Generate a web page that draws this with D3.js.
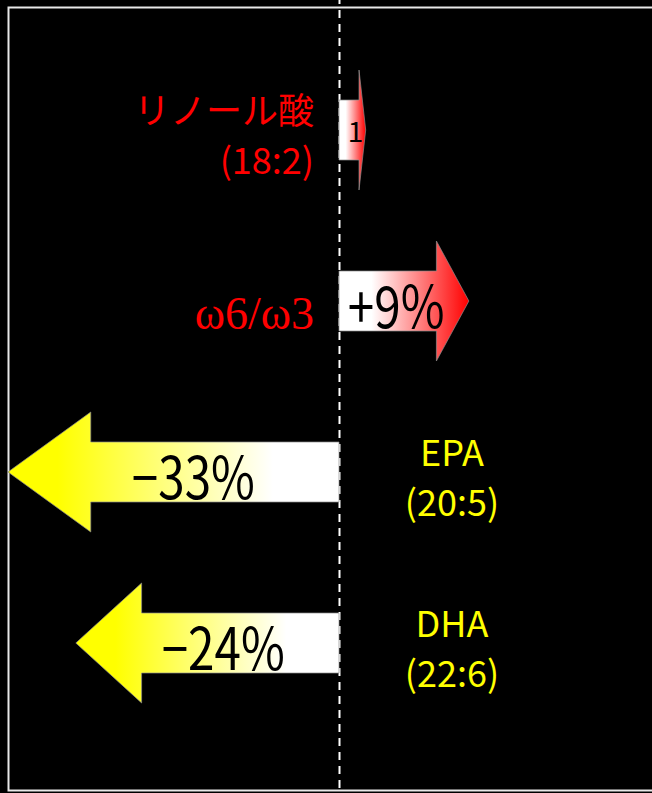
<!DOCTYPE html>
<html>
<head>
<meta charset="utf-8">
<script src="https://cdn.jsdelivr.net/npm/d3@7"></script>
<style>
  html, body { margin: 0; padding: 0; background: #000; }
  svg { display: block; }
</style>
</head>
<body>
<div id="chart"></div>
<script>
// ---- data ----
const categories = ["リノール酸", "ω6/ω3", "EPA", "DHA"];
const subLabels = ["(18:2)", "", "(20:5)", "(22:6)"];
const values = [1, 9, -33, -24];          // % change
const valueLabels = ["1", "+9%", "−33%", "−24%"];

// ---- layout ----
const W = 652, H = 793;
const svg = d3.select("#chart").append("svg")
  .attr("width", W).attr("height", H)
  .style("background", "#000");

const x = d3.scalePow().exponent(0.72)
  .domain([-33, 33]).range([8, 670]);
const y = d3.scalePoint().domain(categories).range([130, 643]);

const x0 = x(0);
const shaftHalf = 30, headHalf = 60;

// gradients
const defs = svg.append("defs");
const gPos = defs.append("linearGradient").attr("id", "gradPos")
  .attr("x1", 0).attr("x2", 1).attr("y1", 0).attr("y2", 0);
gPos.append("stop").attr("offset", 0).attr("stop-color", "#ffffff");
gPos.append("stop").attr("offset", 0.25).attr("stop-color", "#ffffff");
gPos.append("stop").attr("offset", 1).attr("stop-color", "#ff0000");
const gNeg = defs.append("linearGradient").attr("id", "gradNeg")
  .attr("x1", 1).attr("x2", 0).attr("y1", 0).attr("y2", 0);
gNeg.append("stop").attr("offset", 0).attr("stop-color", "#ffffff");
gNeg.append("stop").attr("offset", 0.2).attr("stop-color", "#ffffff");
gNeg.append("stop").attr("offset", 0.85).attr("stop-color", "#ffff00");
gNeg.append("stop").attr("offset", 1).attr("stop-color", "#ffff00");

// frame
svg.append("rect")
  .attr("x", 8.5).attr("y", 7.5).attr("width", 720).attr("height", 783)
  .attr("fill", "none").attr("stroke", "#e8e8e8").attr("stroke-width", 2);

// zero line (dashed)
svg.append("line")
  .attr("x1", x0 + 0.5).attr("x2", x0 + 0.5).attr("y1", 0).attr("y2", H)
  .attr("stroke", "#fff").attr("stroke-width", 2)
  .attr("stroke-dasharray", "8,6").attr("stroke-dashoffset", 4);

const rows = categories.map((c, i) => ({
  cat: c, sub: subLabels[i], v: values[i], lab: valueLabels[i]
}));

function arrowPath(d) {
  const c = y(d.cat);
  const xt = x(d.v);
  const L = xt - x0;
  const xh = x0 + 0.75 * L;
  return `M${x0},${c - shaftHalf} L${xh},${c - shaftHalf} L${xh},${c - headHalf} ` +
         `L${xt},${c} L${xh},${c + headHalf} L${xh},${c + shaftHalf} L${x0},${c + shaftHalf} Z`;
}

const g = svg.selectAll("g.row").data(rows).join("g").attr("class", "row");

g.append("path")
  .attr("d", arrowPath)
  .attr("fill", d => d.v >= 0 ? "url(#gradPos)" : "url(#gradNeg)")
  .attr("stroke", "rgba(140,140,140,0.7)")
  .attr("stroke-width", 1);

// value labels inside arrows
const small = d => Math.abs(x(d.v) - x0) < 60;
g.append("text")
  .attr("x", d => {
    const L = x(d.v) - x0;
    return small(d) ? x0 + 0.62 * L : x0 + L / 2 - 0.06 * L;
  })
  .attr("y", d => y(d.cat) + (small(d) ? 12 : 27))
  .attr("text-anchor", "middle")
  .attr("font-family", "'Noto Sans CJK JP', 'Noto Sans', sans-serif")
  .attr("font-size", d => small(d) ? 28 : 58)
  .attr("fill", "#000")
  .text(d => d.lab)
  .each(function(d) {
    if (small(d)) return;
    const w = this.getComputedTextLength();
    d3.select(this).attr("textLength", w * 0.82).attr("lengthAdjust", "spacingAndGlyphs");
  });

// category labels
const labelFont = "'Noto Sans CJK JP', 'Noto Sans', sans-serif";
g.each(function(d) {
  const sel = d3.select(this);
  const c = y(d.cat);
  const pos = d.v >= 0;
  const color = pos ? "#ff0000" : "#ffff00";
  const lx = pos ? x0 - 25 : x0 + 113;
  const anchor = pos ? "end" : "middle";
  const serif = /ω/.test(d.cat);
  if (d.sub) {
    sel.append("text")
      .attr("x", lx).attr("y", c - 6)
      .attr("text-anchor", anchor).attr("fill", color)
      .attr("font-family", labelFont).attr("font-size", 36)
      .text(d.cat);
    sel.append("text")
      .attr("x", lx).attr("y", c + 44)
      .attr("text-anchor", anchor).attr("fill", color)
      .attr("font-family", labelFont).attr("font-size", 36)
      .text(d.sub);
  } else {
    sel.append("text")
      .attr("x", lx).attr("y", c + 28)
      .attr("text-anchor", anchor).attr("fill", color)
      .attr("font-family", serif ? "'Liberation Serif', 'DejaVu Serif', serif" : labelFont)
      .attr("font-size", 46)
      .text(d.cat);
  }
});
</script>
</body>
</html>
